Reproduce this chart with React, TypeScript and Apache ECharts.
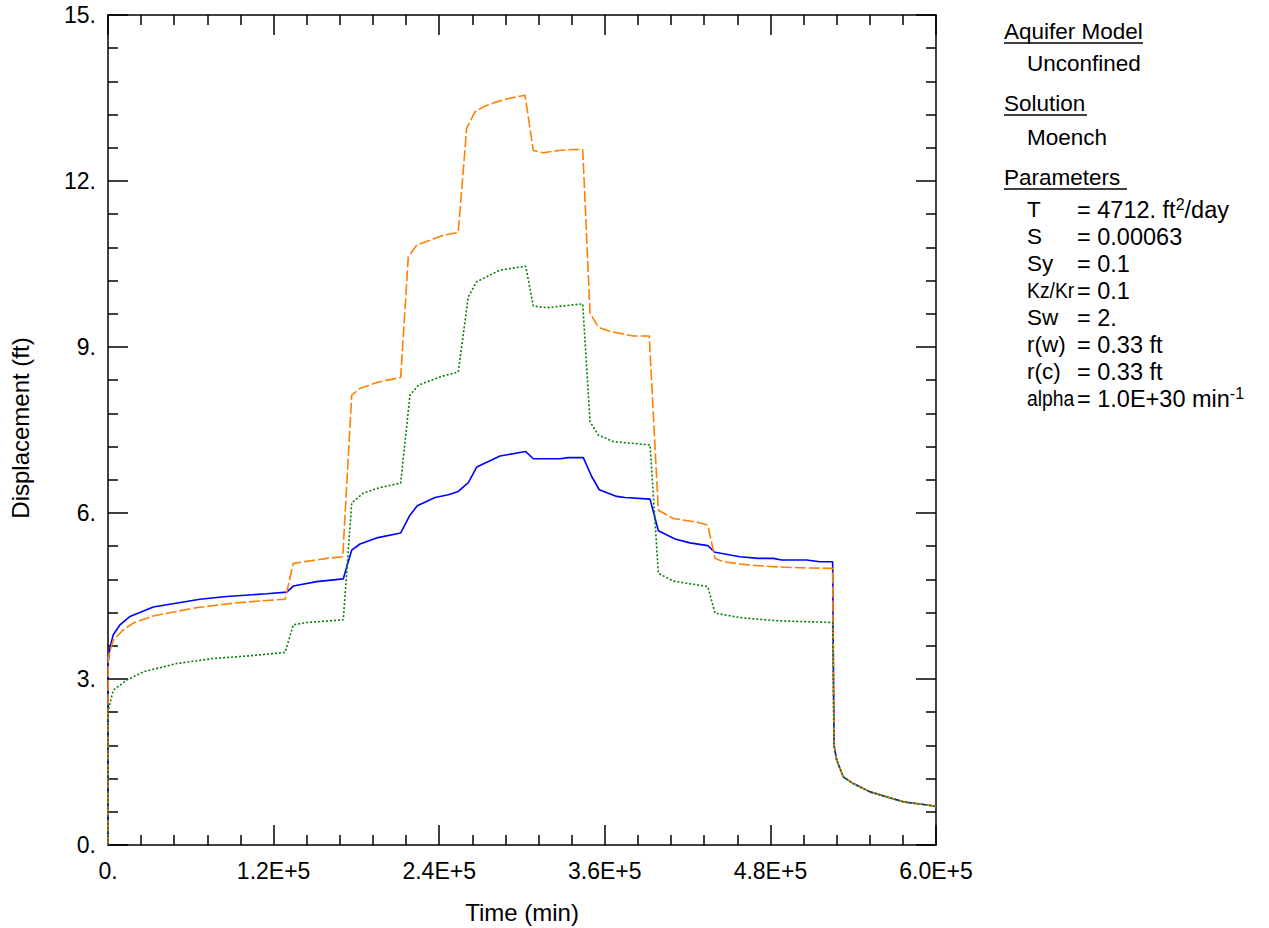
import React, { useEffect, useRef } from "react";
import * as echarts from "echarts";

// ---- Data (time in minutes, displacement in ft) ----
const xTickLabels = ["0.", "1.2E+5", "2.4E+5", "3.6E+5", "4.8E+5", "6.0E+5"];
const yTickLabels = ["0.", "3.", "6.", "9.", "12.", "15."];

// shared recovery tail after pumping stops
const recoveryT = [526100, 528000, 532800, 540100, 552200, 564300, 576300, 588400, 600000];
const recoveryV = [1.8, 1.54, 1.23, 1.11, 0.96, 0.87, 0.78, 0.74, 0.7];

const blueT = [0, 100, 1449, 3841, 8696, 15942, 32826, 66667, 86014, 115000, 129500, 134300, 151200, 170500, 176600, 182600, 194700, 212100, 218800, 224100, 237000, 246600, 253800, 261100, 267200, 284100, 302700, 308200, 327500, 333600, 344400, 350500, 356000, 368600, 374600, 392800, 398800, 410900, 421700, 434600, 439900, 458000, 471200, 482100, 488200, 506300, 515900, 525100];
const blueV = [0, 3.3, 3.58, 3.8, 3.98, 4.13, 4.3, 4.44, 4.49, 4.54, 4.57, 4.68, 4.76, 4.81, 5.33, 5.44, 5.55, 5.64, 5.96, 6.13, 6.28, 6.33, 6.39, 6.55, 6.83, 7.03, 7.11, 6.98, 6.98, 7.0, 7.0, 6.66, 6.42, 6.3, 6.28, 6.25, 5.68, 5.53, 5.46, 5.41, 5.29, 5.21, 5.18, 5.18, 5.15, 5.15, 5.12, 5.12];

const orangeT = [0, 100, 217, 3841, 11087, 18333, 32826, 64275, 90797, 115000, 128300, 134300, 158500, 170100, 176600, 182600, 194700, 212100, 217600, 223700, 243000, 253800, 259900, 265900, 272000, 281700, 290100, 302200, 308200, 315400, 326300, 337200, 344000, 349300, 355300, 363800, 380700, 392200, 398800, 409600, 427800, 434600, 439900, 445900, 464000, 482100, 501400, 525100];
const orangeV = [0, 3.1, 3.4, 3.7, 3.89, 4.01, 4.14, 4.29, 4.37, 4.42, 4.44, 5.09, 5.18, 5.21, 8.13, 8.25, 8.36, 8.45, 10.63, 10.84, 11.02, 11.07, 12.95, 13.25, 13.34, 13.43, 13.49, 13.55, 12.55, 12.51, 12.55, 12.57, 12.57, 9.61, 9.36, 9.28, 9.2, 9.2, 6.05, 5.9, 5.83, 5.78, 5.18, 5.12, 5.06, 5.03, 5.01, 5.0];

const greenT = [0, 100, 217, 3841, 13551, 25580, 49783, 76304, 102899, 128300, 134300, 144000, 170500, 176600, 185000, 197100, 212100, 218800, 224900, 240600, 253800, 261100, 267200, 284100, 302700, 308200, 317900, 344000, 349300, 355300, 366200, 392800, 398800, 409600, 434600, 439900, 458000, 471200, 487000, 514700, 525100];
const greenV = [0, 2.0, 2.44, 2.8, 2.98, 3.13, 3.28, 3.37, 3.42, 3.48, 3.98, 4.02, 4.07, 6.18, 6.36, 6.46, 6.54, 8.13, 8.31, 8.46, 8.55, 9.91, 10.18, 10.39, 10.46, 9.74, 9.71, 9.78, 7.65, 7.41, 7.29, 7.23, 4.91, 4.77, 4.67, 4.19, 4.11, 4.08, 4.05, 4.03, 4.02];

const paramNames = ["T", "S", "Sy", "Kz/Kr", "Sw", "r(w)", "r(c)", "alpha"];
const paramValues = [
  "{n|= 4712. ft}{s|2}{n|/day}",
  "{n|= 0.00063}",
  "{n|= 0.1}",
  "{n|= 0.1}",
  "{n|= 2.}",
  "{n|= 0.33 ft}",
  "{n|= 0.33 ft}",
  "{n|= 1.0E+30 min}{s|-1}",
];

const FONT = "Arial, 'Liberation Sans', sans-serif";

function pairs(t: number[], v: number[]) {
  const out: [number, number][] = [];
  for (let i = 0; i < t.length; i++) out.push([t[i], v[i]]);
  for (let i = 0; i < recoveryT.length; i++) out.push([recoveryT[i], recoveryV[i]]);
  return out;
}

export default function App() {
  const ref = useRef<HTMLDivElement>(null);
  useEffect(() => {
    if (!ref.current) return;
    const chart = echarts.init(ref.current, undefined, { renderer: "svg" });
    const L = 108, T = 15, W = 828, H = 830;
    const axisCommon = {
      axisLine: { show: true, onZero: false, lineStyle: { color: "#000", width: 1.5 } },
      axisTick: { show: true, inside: true, length: 20, lineStyle: { color: "#000", width: 1.5 } },
      minorTick: { show: true, splitNumber: 5, length: 10, lineStyle: { color: "#000", width: 1.5 } },
      splitLine: { show: false },
    };
    const rich = {
      n: { fontSize: 23.5, fontFamily: FONT, color: "#000", lineHeight: 28 },
      s: { fontSize: 16, fontFamily: FONT, color: "#000", lineHeight: 16, verticalAlign: "top" },
    };
    const head = `22.5px ${FONT}`;
    const texts: any[] = [
      { type: "text", x: 20, y: 428, rotation: Math.PI / 2, style: { text: "Displacement (ft)", font: `24px ${FONT}`, fill: "#000", align: "center", verticalAlign: "middle" } },
      { type: "text", x: 522, y: 912, style: { text: "Time (min)", font: `24px ${FONT}`, fill: "#000", align: "center", verticalAlign: "middle" } },
      { type: "text", x: 1004, y: 31, style: { text: "Aquifer Model", font: head, fill: "#000", verticalAlign: "middle" } },
      { type: "line", shape: { x1: 1004, y1: 43, x2: 1143, y2: 43 }, style: { stroke: "#000", lineWidth: 1.5 } },
      { type: "text", x: 1027, y: 63, style: { text: "Unconfined", font: head, fill: "#000", verticalAlign: "middle" } },
      { type: "text", x: 1004, y: 103, style: { text: "Solution", font: head, fill: "#000", verticalAlign: "middle" } },
      { type: "line", shape: { x1: 1004, y1: 115, x2: 1087, y2: 115 }, style: { stroke: "#000", lineWidth: 1.5 } },
      { type: "text", x: 1027, y: 137, style: { text: "Moench", font: head, fill: "#000", verticalAlign: "middle" } },
      { type: "text", x: 1004, y: 177, style: { text: "Parameters", font: head, fill: "#000", verticalAlign: "middle" } },
      { type: "line", shape: { x1: 1004, y1: 189, x2: 1127, y2: 189 }, style: { stroke: "#000", lineWidth: 1.5 } },
    ];
    paramNames.forEach((p, i) => {
      const y = 211 + i * 27;
      const narrow = p === "Kz/Kr" || p === "alpha";
      texts.push({ type: "text", x: 1027, y: y - 2, scaleX: narrow ? 0.86 : 1, style: { text: p, font: `22.5px ${FONT}`, fill: "#000", verticalAlign: "middle" } });
      texts.push({ type: "text", x: 1077, y: y - 1, style: { text: paramValues[i], rich, verticalAlign: "middle" } });
    });

    chart.setOption({
      animation: false,
      backgroundColor: "#fff",
      grid: { left: L, top: T, width: W, height: H, containLabel: false },
      xAxis: [
        {
          type: "value", position: "bottom", min: 0, max: 600000, interval: 120000, ...axisCommon,
          axisLabel: { show: true, margin: 14, fontSize: 23, fontFamily: FONT, color: "#000", formatter: (v: number) => xTickLabels[Math.round(v / 120000)] ?? "" },
        },
        {
          type: "value", position: "top", min: 0, max: 600000, interval: 120000, ...axisCommon,
          axisLabel: { show: false },
        },
      ],
      yAxis: [
        {
          type: "value", position: "left", min: 0, max: 15, interval: 3, ...axisCommon,
          axisLabel: { show: true, margin: 12, fontSize: 23, fontFamily: FONT, color: "#000", formatter: (v: number) => yTickLabels[Math.round(v / 3)] ?? "" },
        },
        {
          type: "value", position: "right", min: 0, max: 15, interval: 3, ...axisCommon,
          axisLabel: { show: false },
        },
      ],
      graphic: texts,
      series: [
        { name: "Blue", type: "line", data: pairs(blueT, blueV), showSymbol: false, symbol: "none", lineStyle: { color: "#0000ff", width: 1.6, type: "solid" }, z: 3 },
        { name: "Orange", type: "line", data: pairs(orangeT, orangeV), showSymbol: false, symbol: "none", lineStyle: { color: "#ff8000", width: 1.6, type: [11, 3] }, z: 4 },
        { name: "Green", type: "line", data: pairs(greenT, greenV), showSymbol: false, symbol: "none", lineStyle: { color: "#008000", width: 1.6, type: [2, 2] }, z: 5 },
      ],
    });
    return () => chart.dispose();
  }, []);
  return <div ref={ref} style={{ position: "absolute", left: 0, top: 0, width: 1269, height: 928 }} />;
}
